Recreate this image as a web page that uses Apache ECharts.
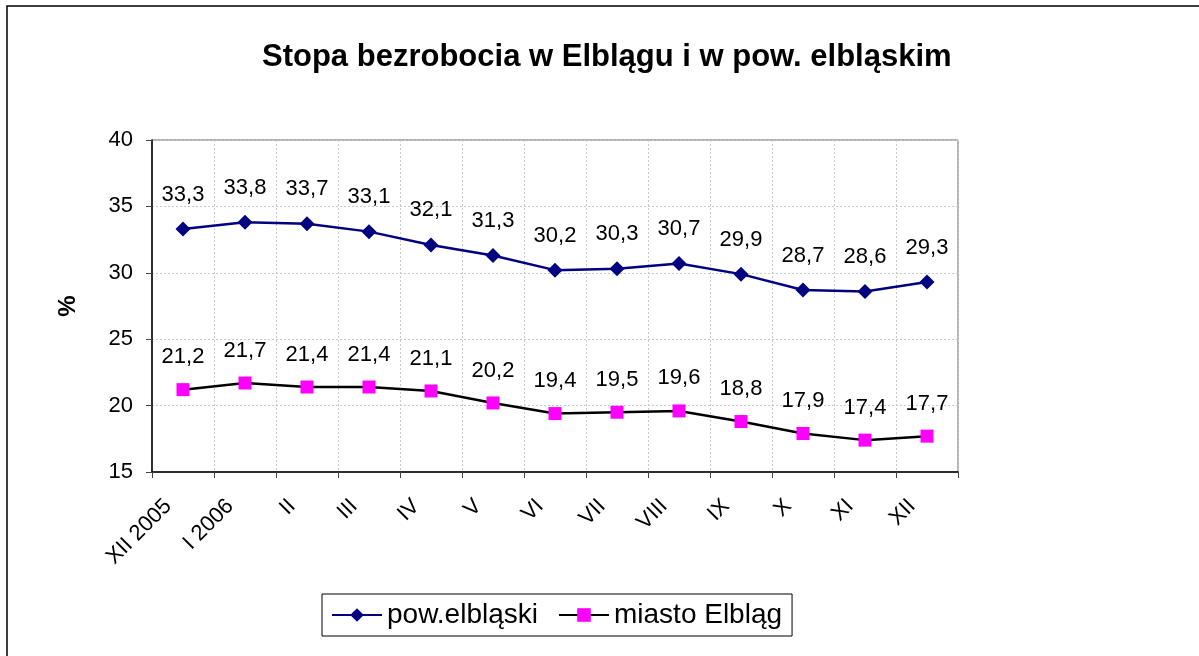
<!DOCTYPE html>
<html>
<head>
<meta charset="utf-8">
<script src="https://cdn.jsdelivr.net/npm/echarts@6/dist/echarts.min.js"></script>
<style>
  html, body { margin: 0; padding: 0; background: #fff; }
  #chart { width: 1199px; height: 656px; }
</style>
</head>
<body>
<div id="chart"></div>
<script>
const categories = ['XII 2005', 'I 2006', 'II', 'III', 'IV', 'V', 'VI', 'VII', 'VIII', 'IX', 'X', 'XI', 'XII'];
const powElblaski = [33.3, 33.8, 33.7, 33.1, 32.1, 31.3, 30.2, 30.3, 30.7, 29.9, 28.7, 28.6, 29.3];
const miastoElblag = [21.2, 21.7, 21.4, 21.4, 21.1, 20.2, 19.4, 19.5, 19.6, 18.8, 17.9, 17.4, 17.7];
const yTicks = { min: 15, max: 40, interval: 5 };

const FONT = '"Liberation Sans", Arial, sans-serif';
const fmt = p => String(p.value).replace('.', ',');

const chart = echarts.init(document.getElementById('chart'), null, { renderer: 'canvas' });
chart.setOption({
  backgroundColor: '#fff',
  animation: false,
  textStyle: { fontFamily: FONT },
  graphic: [{
    type: 'rect',
    shape: { x: 7, y: 6, width: 1300, height: 800 },
    style: { fill: 'none', stroke: '#000', lineWidth: 1.5 },
    silent: true
  }],
  title: {
    text: 'Stopa bezrobocia w Elblągu i w pow. elbląskim',
    left: 262,
    top: 42,
    padding: 0,
    textStyle: { fontFamily: FONT, fontSize: 31, fontWeight: 'bold', color: '#000' }
  },
  grid: {
    left: 152, right: 241, top: 140, bottom: 184,
    show: true, borderColor: '#666', borderWidth: 1, backgroundColor: '#fff'
  },
  legend: {
    left: 322, top: 594,
    orient: 'horizontal',
    itemWidth: 50, itemHeight: 17, itemGap: 20,
    padding: [7, 10, 7, 9],
    borderColor: '#000', borderWidth: 1,
    textStyle: { fontFamily: FONT, fontSize: 28, color: '#000' },
    data: ['pow.elbląski', 'miasto Elbląg']
  },
  xAxis: {
    type: 'category',
    data: categories,
    boundaryGap: true,
    axisLine: { lineStyle: { color: '#000', width: 1.5 } },
    axisTick: { show: true, length: 6, interval: 0, alignWithLabel: false, lineStyle: { color: '#444' } },
    splitLine: { show: true, interval: 0, lineStyle: { color: '#c8c8c8', type: [2, 2] } },
    axisLabel: {
      interval: 0, rotate: 45, margin: 16, padding: [0, 21, 0, 0],
      fontFamily: FONT, fontSize: 22, color: '#000'
    }
  },
  yAxis: {
    type: 'value',
    min: yTicks.min, max: yTicks.max, interval: yTicks.interval,
    name: '%',
    nameLocation: 'middle',
    nameGap: 72,
    nameTextStyle: { fontFamily: FONT, fontSize: 24, fontWeight: 'bold', color: '#000' },
    axisLine: { show: true, lineStyle: { color: '#000', width: 1.5 } },
    axisTick: { show: true, length: 6, lineStyle: { color: '#444' } },
    splitLine: { show: true, lineStyle: { color: '#c8c8c8', type: [2, 2] } },
    axisLabel: { margin: 19, fontFamily: FONT, fontSize: 22, color: '#000' }
  },
  series: [{
    name: 'pow.elbląski',
    type: 'line',
    data: powElblaski,
    symbol: 'diamond',
    symbolSize: 15,
    lineStyle: { color: '#000080', width: 2.5 },
    itemStyle: { color: '#000080' },
    label: { show: true, position: 'top', distance: 16, formatter: fmt, fontFamily: FONT, fontSize: 22, color: '#000' }
  }, {
    name: 'miasto Elbląg',
    type: 'line',
    data: miastoElblag,
    symbol: 'rect',
    symbolSize: 13,
    lineStyle: { color: '#000', width: 2.5 },
    itemStyle: { color: '#ff00ff' },
    label: { show: true, position: 'top', distance: 15, formatter: fmt, fontFamily: FONT, fontSize: 22, color: '#000' }
  }]
});
</script>
</body>
</html>
